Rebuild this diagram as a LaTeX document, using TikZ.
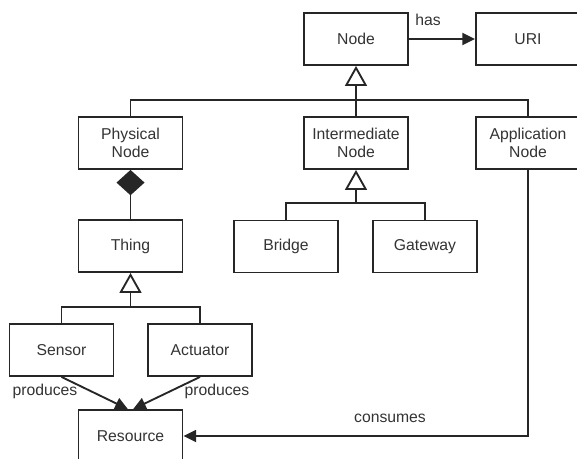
\documentclass[tikz,border=0pt]{standalone}
\usepackage{fontspec}
\setmainfont{Liberation Sans}
\usetikzlibrary{arrows.meta}

\begin{document}
\begin{tikzpicture}[x=0.75pt,y=-0.75pt,line width=1.4pt,draw=black!85,text=black!80,
	font=\fontsize{11.8}{14}\selectfont]
	\tikzset{class/.style={draw,align=center,minimum width=78pt,minimum height=39pt,inner sep=0pt}};
	\tikzset{inherit/.style={-{Triangle[open,length=15pt,width=16.5pt,line width=1.4pt]}}};
	\tikzset{compose/.style={-{Diamond[length=19pt,width=21pt]}}};
	\tikzset{assoc/.style={-{Triangle[length=9.5pt,width=9pt]}}};
	\tikzset{rolle/.style={inner sep=0pt}};
%<--------------------------------------------------------------------------->%
	\useasboundingbox (0,0) rectangle (577,458);
	% classes
	\node[class] (node)  at (356,39)    {Node};
	\node[class] (uri)   at (528,39)    {URI};
	\node[class] (phys)  at (130.5,143) {Physical\\Node};
	\node[class] (inter) at (356,143)   {Intermediate\\Node};
	\node[class] (app)   at (528,143)   {Application\\Node};
	\node[class] (thing) at (130.5,246) {Thing};
	\node[class] (bridge) at (286,246.5) {Bridge};
	\node[class] (gate)  at (425,246.5) {Gateway};
	\node[class] (sensor) at (61.5,350) {Sensor};
	\node[class] (act)   at (200,350)   {Actuator};
	\node[class] (res)   at (130.5,436) {Resource};
	% generalisations
	\coordinate (nodebus)  at (356,100);
	\coordinate (interbus) at (356,203);
	\coordinate (thingbus) at (130.5,307);
	\draw (phys.north) |- (nodebus) -| (app.north);
	\draw (inter.north) -- (nodebus);
	\draw[inherit] (nodebus) -- (node.south);
	\draw (bridge.north) |- (interbus) -| (gate.north);
	\draw[inherit] (interbus) -- (inter.south);
	\draw (sensor.north) |- (thingbus) -| (act.north);
	\draw[inherit] (thingbus) -- (thing.south);
	% composition
	\draw[compose] (thing.north) -- (phys.south);
	% associations
	\draw[assoc] (node.east) -- (uri.west);
	\draw[assoc] (sensor.south) -- ([xshift=-2pt]res.north);
	\draw[assoc] (act.south) -- ([xshift=2pt]res.north);
	\draw[assoc] (app.south) |- (res.east);
	% roles
	\node[rolle] (has)  at (428,20)  {has};
	\node[rolle] (prodl) at (45,391)  {produces};
	\node[rolle] (prodr) at (217,391) {produces};
	\node[rolle] (cons) at (390,418) {consumes};
\end{tikzpicture}
\end{document}
